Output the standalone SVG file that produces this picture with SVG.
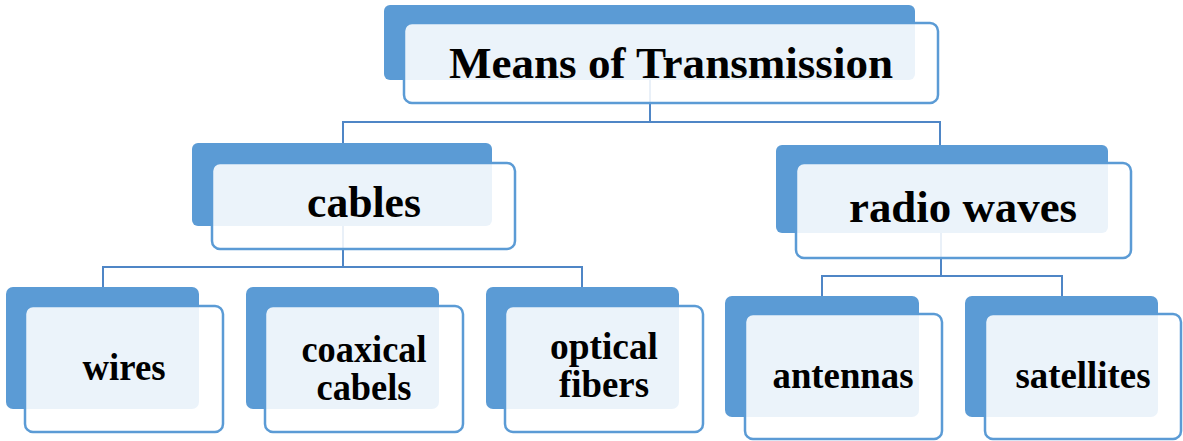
<svg xmlns="http://www.w3.org/2000/svg" width="1183" height="441" viewBox="0 0 1183 441">
<style>
.back{fill:#5B9BD5;}
.front{fill:#FFFFFF;fill-opacity:0.88;stroke:#5B9BD5;stroke-width:2.5;}
.conn{fill:none;stroke:#4F86C6;stroke-width:2;}
.t{font-family:"Liberation Serif","Times New Roman",serif;font-weight:bold;fill:#000;text-anchor:middle;}
.big{font-size:44px;}
.small{font-size:37px;}
</style>
<rect width="1183" height="441" fill="#FFFFFF"/>
<g id="connectors">
<path class="conn" d="M650,80 V122 M343,143 V122 H940 V145"/>
<path class="conn" d="M343,226 V267 M103,288 V267 H582 V288"/>
<path class="conn" d="M941,233 V276 M822,296 V276 H1062 V296"/>
</g>
<g id="node-means">
<rect class="back" x="384" y="5" width="531" height="75" rx="6"/>
<rect class="front" x="404" y="23" width="534" height="80" rx="8"/>
<text class="t big" x="671" y="78" textLength="444" lengthAdjust="spacingAndGlyphs">Means of Transmission</text>
</g>
<g id="node-cables">
<rect class="back" x="192" y="143" width="300" height="83" rx="6"/>
<rect class="front" x="212" y="163" width="303" height="86" rx="8"/>
<text class="t big" x="364" y="217" textLength="114" lengthAdjust="spacingAndGlyphs">cables</text>
</g>
<g id="node-radio">
<rect class="back" x="776" y="145" width="332" height="88" rx="6"/>
<rect class="front" x="796" y="163" width="335" height="95" rx="8"/>
<text class="t big" x="963" y="222" textLength="228" lengthAdjust="spacingAndGlyphs">radio waves</text>
</g>
<g id="node-wires">
<rect class="back" x="6" y="287" width="193" height="122" rx="7"/>
<rect class="front" x="25" y="306" width="198" height="126" rx="8"/>
<text class="t small" x="124" y="380" textLength="83" lengthAdjust="spacingAndGlyphs">wires</text>
</g>
<g id="node-coaxical">
<rect class="back" x="246" y="287" width="193" height="122" rx="7"/>
<rect class="front" x="265" y="306" width="198" height="126" rx="8"/>
<text class="t small" x="364" y="362" textLength="125" lengthAdjust="spacingAndGlyphs">coaxical</text>
<text class="t small" x="364" y="400" textLength="95" lengthAdjust="spacingAndGlyphs">cabels</text>
</g>
<g id="node-optical">
<rect class="back" x="486" y="287" width="193" height="122" rx="7"/>
<rect class="front" x="505" y="306" width="198" height="126" rx="8"/>
<text class="t small" x="604" y="359" textLength="108" lengthAdjust="spacingAndGlyphs">optical</text>
<text class="t small" x="604" y="397" textLength="90" lengthAdjust="spacingAndGlyphs">fibers</text>
</g>
<g id="node-antennas">
<rect class="back" x="725" y="296" width="194" height="121" rx="7"/>
<rect class="front" x="745" y="314" width="197" height="125" rx="8"/>
<text class="t small" x="843" y="388" textLength="141" lengthAdjust="spacingAndGlyphs">antennas</text>
</g>
<g id="node-satellites">
<rect class="back" x="965" y="296" width="193" height="121" rx="7"/>
<rect class="front" x="985" y="314" width="196" height="125" rx="8"/>
<text class="t small" x="1083" y="388" textLength="135" lengthAdjust="spacingAndGlyphs">satellites</text>
</g>
</svg>
